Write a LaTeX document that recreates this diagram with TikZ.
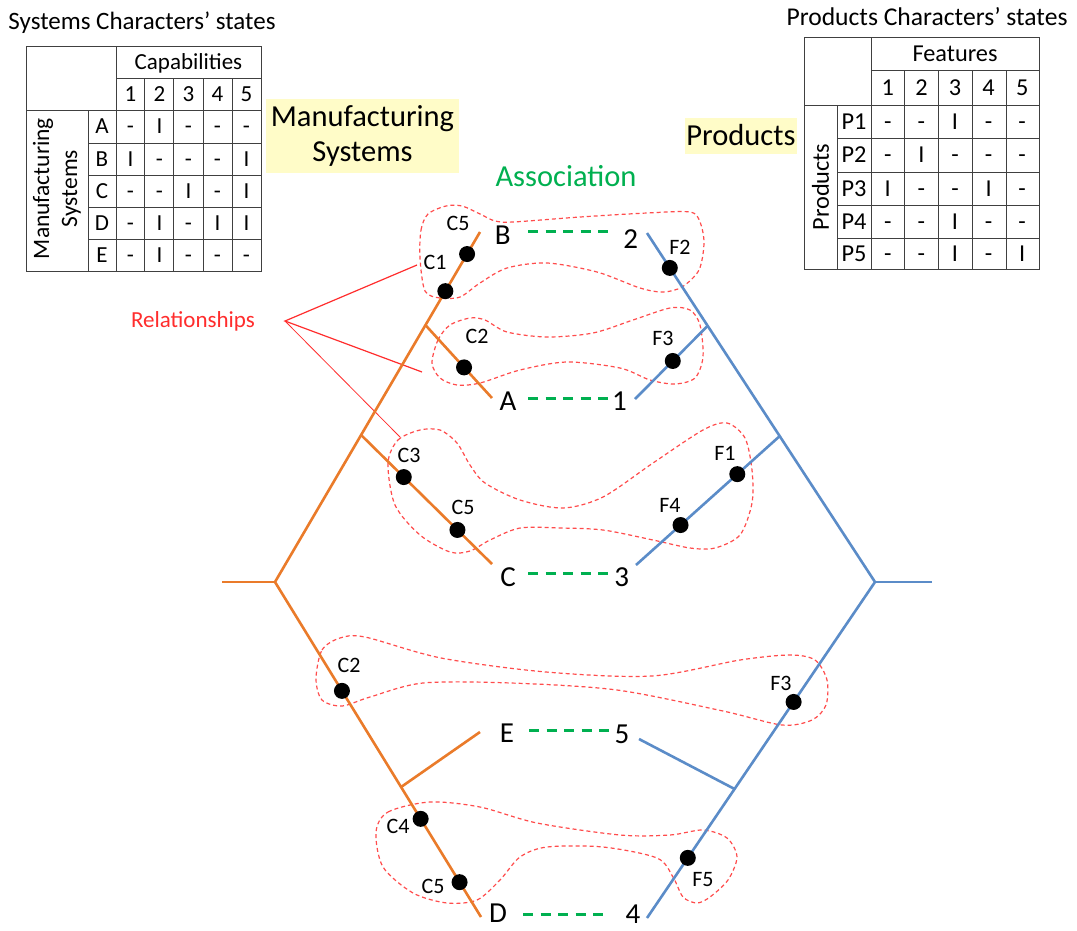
\documentclass[tikz,border=0pt]{standalone}
\usepackage{fontspec}
\setmainfont{Carlito}
\usetikzlibrary{calc}
\definecolor{msorange}{HTML}{EA7B2A}
\definecolor{prblue}{HTML}{5B8CC8}
\definecolor{assocgreen}{HTML}{00B050}
\definecolor{relred}{HTML}{FF2D2D}
\definecolor{hilite}{HTML}{FFFCC8}
\newcommand{\setfs}[1]{\fontsize{#1}{#1}\selectfont}
\begin{document}
\begin{tikzpicture}[x=1pt,y=-1pt,
  mline/.style={draw=msorange,line width=2.6pt},
  pline/.style={draw=prblue,line width=2.6pt},
  dot/.style={circle,fill=black,inner sep=0pt,minimum size=16pt},
  tag/.style={inner sep=0pt,font=\setfs{22}},
  big/.style={inner sep=0pt,font=\setfs{29}},
  assoc/.style={draw=assocgreen,line width=3pt,dash pattern=on 10pt off 7.5pt},
  blob/.style={draw=relred!85,line width=1.2pt,dash pattern=on 4pt off 3pt},
  rel/.style={draw=relred,line width=1.2pt},
  grid/.style={draw=black!75,line width=1pt},
  lcell/.style={inner sep=0pt,font=\setfs{23},text height=14.5pt,text depth=0pt},
  rcell/.style={inner sep=0pt,font=\setfs{24.3},text height=15.5pt,text depth=0pt},
]
\fill[white] (0,0) rectangle (1077,930);
\useasboundingbox (0,0) rectangle (1077,930);

% ---------- systems table ----------
\node[font=\setfs{25}] (Ltitle) at (142,23) {Systems Characters’ states};
\draw[grid] (26,46) rectangle (261,271);
\draw[grid] (116,46) -- (116,271) (88,110) -- (88,271) (116,78) -- (261,78) (26,110) -- (261,110);
\foreach \x in {144,173,203,232} \draw[grid] (\x,78) -- (\x,271);
\foreach \y in {143,175,207,239} \draw[grid] (88,\y) -- (261,\y);
\node[lcell] (Lcap) at (188.5,62) {Capabilities};
\foreach \i in {1,...,5} \node[lcell] (Lh\i) at ({101.5+29*\i},94) {\i};
\node[rotate=90,align=center,inner sep=0pt,font=\fontsize{23.5}{28}\selectfont] (Lside) at (57,188.5) {Manufacturing\\Systems};
\foreach \r/\y/\vals in {A/126.5/{-,I,-,-,-},B/159/{I,-,-,-,I},C/191/{-,-,I,-,I},D/223/{-,I,-,I,I},E/255/{-,I,-,-,-}} {
  \node[lcell] (L\r) at (102,\y) {\r};
  \foreach \v [count=\i] in \vals \node[lcell] (L\r\i) at ({101.5+29*\i},\y) {\v};
}

% ---------- products table ----------
\node[font=\setfs{25.6}] (Rtitle) at (927,17) {Products Characters’ states};
\draw[grid] (804,37) rectangle (1039,269);
\draw[grid] (871,37) -- (871,269) (837,105) -- (837,269) (871,70) -- (1039,70) (804,105) -- (1039,105);
\foreach \x in {904,938,972,1006} \draw[grid] (\x,70) -- (\x,269);
\foreach \y in {138,172,205,238} \draw[grid] (837,\y) -- (1039,\y);
\node[rcell] (Rfeat) at (955,53.5) {Features};
\foreach \i in {1,...,5} \node[rcell] (Rh\i) at ({854.2+33.6*\i},87.5) {\i};
\node[rotate=90,inner sep=0pt,font=\setfs{24.3}] (Rside) at (820.5,187) {Products};
\foreach \r/\y/\vals in {1/121.5/{-,-,I,-,-},2/155/{-,I,-,-,-},3/188.5/{I,-,-,I,-},4/221.5/{-,-,I,-,-},5/253.5/{-,-,I,-,I}} {
  \node[rcell] (RP\r) at (854,\y) {P\r};
  \foreach \v [count=\i] in \vals \node[rcell] (RP\r c\i) at ({854.2+33.6*\i},\y) {\v};
}

% ---------- headings ----------
\node[fill=hilite,align=center,inner sep=0pt,minimum width=193pt,minimum height=74pt,
      font=\fontsize{30.5}{35}\selectfont] (msys) at (362.5,136) {Manufacturing\\Systems};
\node[fill=hilite,inner sep=0pt,minimum width=112pt,minimum height=36pt,font=\setfs{30.5}] (prod) at (741,135.5) {Products};
\node[text=assocgreen,font=\setfs{30.5}] (assoc) at (566,176) {Association};

% ---------- relationship outlines ----------
\draw[blob] plot[smooth cycle] coordinates {(420,258) (421,230) (428,214) (446,206) (462,206) (480,214) (495,221) (513,222) (580,217) (647,213) (690,212) (700,222) (704,243) (699,270) (682,287) (663,292) (640,288) (597,272) (547,263) (507,268) (480,283) (460,297) (440,298) (425,291)};
\draw[blob] plot[smooth cycle] coordinates {(432,363) (438,340) (450,325) (470,318) (485,320) (507,332) (547,337) (593,333) (633,320) (670,308) (690,310) (700,325) (703,357) (695,378) (675,384) (650,380) (620,368) (567,362) (520,370) (480,383) (457,385) (440,378)};
\draw[blob] plot[smooth cycle] coordinates {(388,463) (398,440) (420,430) (440,430) (457,443) (470,465) (485,483) (520,500) (563,508) (603,497) (653,463) (703,430) (727,423) (745,438) (752,470) (752,503) (740,535) (715,548) (690,548) (653,540) (603,530) (560,528) (520,528) (490,540) (470,551) (450,552) (420,535) (395,505)};
\draw[blob] plot[smooth cycle] coordinates {(316,679) (322,650) (340,638) (365,637) (441,658) (546,672) (652,676) (740,660) (790,655) (815,660) (827,680) (826,705) (812,720) (782,725) (723,711) (617,690) (511,683) (423,683) (370,697) (342,706) (322,700)};
\draw[blob] plot[smooth cycle] coordinates {(376,832) (388,812) (430,802) (480,807) (537,823) (620,835) (670,835) (703,830) (727,838) (737,857) (728,880) (710,897) (697,903) (683,897) (673,877) (657,858) (603,847) (547,847) (520,857) (500,880) (477,900) (447,903) (413,893) (383,867)};

% ---------- relationships pointer ----------
\node[text=relred,font=\setfs{23}] (relname) at (193,321) {Relationships};
\coordinate (relhub) at (285,321);
\coordinate (rel1) at (417,265);
\coordinate (rel2) at (422,372);
\coordinate (rel3) at (400,437);
\draw[rel] (rel1) -- (relhub) -- (rel2);
\draw[rel,line width=0.8pt] (relhub) -- (rel3);

% ---------- manufacturing systems tree ----------
\coordinate (mroot) at (222,582);
\coordinate (mj) at (275,582);
\coordinate (mB) at (480,232);
\coordinate (mA) at (492,398);
\coordinate (mC) at (492,564);
\coordinate (mD) at (481,917);
\coordinate (mE) at (480,732);
\coordinate (mjA) at ($(mj)!0.734!(mB)$);
\coordinate (mjC) at ($(mj)!0.42!(mB)$);
\coordinate (mjE) at ($(mj)!0.612!(mD)$);
\draw[mline] (mroot) -- (mj);
\draw[mline] (mB) -- (mj) -- (mD);
\draw[mline] (mjA) -- (mA);
\draw[mline] (mjC) -- (mC);
\draw[mline] (mjE) -- (mE);

% ---------- products tree ----------
\coordinate (proot) at (932,582);
\coordinate (pj) at (875,582);
\coordinate (p2) at (647,233);
\coordinate (p1) at (635,399);
\coordinate (p3) at (636,565);
\coordinate (p4) at (647,918);
\coordinate (p5) at (639,739);
\coordinate (pj1) at ($(pj)!0.734!(p2)$);
\coordinate (pj3) at ($(pj)!0.418!(p2)$);
\coordinate (pj5) at ($(pj)!0.616!(p4)$);
\draw[pline] (proot) -- (pj);
\draw[pline] (p2) -- (pj) -- (p4);
\draw[pline] (pj1) -- (p1);
\draw[pline] (pj3) -- (p3);
\draw[pline] (pj5) -- (p5);

% ---------- character states ----------
\node[dot] (dC5a) at ($(mj)!0.937!(mB)$) {};
\node[dot] (dC1)  at ($(mj)!0.831!(mB)$) {};
\node[dot] (dC2a) at ($(mjA)!0.58!(mA)$) {};
\node[dot] (dC3)  at ($(mjC)!0.326!(mC)$) {};
\node[dot] (dC5b) at ($(mjC)!0.736!(mC)$) {};
\node[dot] (dC2b) at ($(mj)!0.325!(mD)$) {};
\node[dot] (dC4)  at ($(mj)!0.707!(mD)$) {};
\node[dot] (dC5c) at ($(mj)!0.896!(mD)$) {};
\node[dot] (dF2)  at ($(pj)!0.9!(p2)$) {};
\node[dot] (dF3a) at ($(pj1)!0.48!(p1)$) {};
\node[dot] (dF1)  at ($(pj3)!0.295!(p3)$) {};
\node[dot] (dF4)  at ($(pj3)!0.69!(p3)$) {};
\node[dot] (dF3b) at ($(pj)!0.357!(p4)$) {};
\node[dot] (dF5)  at ($(pj)!0.821!(p4)$) {};

\node[tag] (tC5a) at (458,223) {C5};
\node[tag] (tC1)  at (435,262) {C1};
\node[tag] (tF2)  at (680,247) {F2};
\node[tag] (tC2a) at (477,336) {C2};
\node[tag] (tF3a) at (663,338) {F3};
\node[tag] (tC3)  at (409,455) {C3};
\node[tag] (tC5b) at (463,507) {C5};
\node[tag] (tF1)  at (725,453) {F1};
\node[tag] (tF4)  at (670,505) {F4};
\node[tag] (tC2b) at (349,665) {C2};
\node[tag] (tF3b) at (781,683) {F3};
\node[tag] (tC4)  at (398,826) {C4};
\node[tag] (tC5c) at (433,886) {C5};
\node[tag] (tF5)  at (703,880) {F5};

% ---------- systems and products ----------
\node[big] (B) at (502.7,235) {B};
\node[big] (A) at (508,401.5) {A};
\node[big] (C) at (508,577) {C};
\node[big] (E) at (507,733) {E};
\node[big] (D) at (498,913) {D};
\node[big] (n2) at (630.7,239) {2};
\node[big] (n1) at (619.5,401.5) {1};
\node[big] (n3) at (621.7,577) {3};
\node[big] (n5) at (622,734) {5};
\node[big] (n4) at (633,914) {4};

% ---------- associations ----------
\coordinate (aB) at (528,231.5); \coordinate (a2) at (608,231.5);
\coordinate (aA) at (528,398);   \coordinate (a1) at (608,398);
\coordinate (aC) at (528,573);   \coordinate (a3) at (608,573);
\coordinate (aE) at (529,730);   \coordinate (a5) at (609,730);
\coordinate (aD) at (523,914);   \coordinate (a4) at (603,914);
\draw[assoc] (aB) -- (a2);
\draw[assoc] (aA) -- (a1);
\draw[assoc] (aC) -- (a3);
\draw[assoc] (aE) -- (a5);
\draw[assoc] (aD) -- (a4);
\end{tikzpicture}
\end{document}
